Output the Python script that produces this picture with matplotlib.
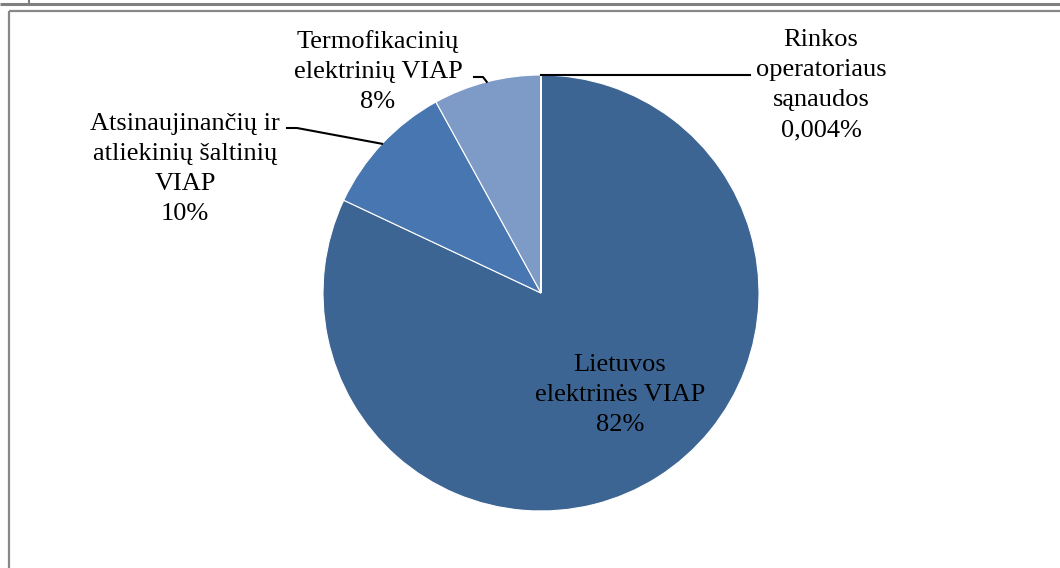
import numpy as np
import matplotlib
matplotlib.use("Agg")
import matplotlib.pyplot as plt
from matplotlib.patches import Rectangle

categories = ["Lietuvos\nelektrinės VIAP",
              "Atsinaujinančių ir\natliekinių šaltinių\nVIAP",
              "Termofikacinių\nelektrinių VIAP",
              "Rinkos\noperatoriaus\nsąnaudos"]
values = [82, 10, 8, 0.004]
pct_labels = ["82%", "10%", "8%", "0,004%"]
colors = ["#3D6594", "#4876B0", "#7E9BC7", "#8FA8D0"]

W, H = 1060, 568
fig = plt.figure(figsize=(W / 100, H / 100), dpi=100)
ax = fig.add_axes([0, 0, 1, 1])

def Y(yp):
    return H - yp

cx, cy, R = 541, Y(293), 218
wedges, _ = ax.pie(values, startangle=90, counterclock=False, colors=colors,
                   center=(cx, cy), radius=R, frame=True,
                   wedgeprops=dict(edgecolor="white", linewidth=0.8))
ax.set_xlim(0, W)
ax.set_ylim(0, H)
ax.set_aspect("auto")
ax.axis("off")

# frame / page decorations
ax.add_patch(Rectangle((9, Y(11)), W + 50, -(H + 50), fill=False,
                       edgecolor="#888888", linewidth=1.6, clip_on=False))
ax.plot([0, W], [Y(4), Y(4)], color="#7f7f7f", linewidth=2.2, solid_capstyle="butt")
ax.plot([29, 29], [Y(0), Y(3)], color="#7f7f7f", linewidth=1.5)

font = dict(family="Liberation Serif", fontsize=19, color="black")
LS = 1.48

def edge(w):
    t = np.deg2rad((w.theta1 + w.theta2) / 2)
    return cx + R * np.cos(t), cy + R * np.sin(t)

# label positions (x centre, last-line baseline in pixels)
pos = [(620, 431), (185, 220), (378, 108), (821, 136)]
for i, (lab, p) in enumerate(zip(categories, pct_labels)):
    x, yb = pos[i]
    ax.text(x, Y(yb), lab + "\n" + p, ha="center", va="baseline",
            linespacing=LS, **font)

lw = 1.5
# Atsinaujinančių leader
ex, ey = edge(wedges[1])
ax.plot([287, 297, ex], [Y(128), Y(128), ey], color="black", linewidth=lw)
# Termofikacinių leader
ex, ey = edge(wedges[2])
ax.plot([474, 483, ex], [Y(77), Y(77), ey], color="black", linewidth=lw)
# Rinkos leader
ex, ey = edge(wedges[3])
ax.plot([ex, 750], [ey, ey], color="black", linewidth=lw)

fig.savefig("out.png", dpi=100)
